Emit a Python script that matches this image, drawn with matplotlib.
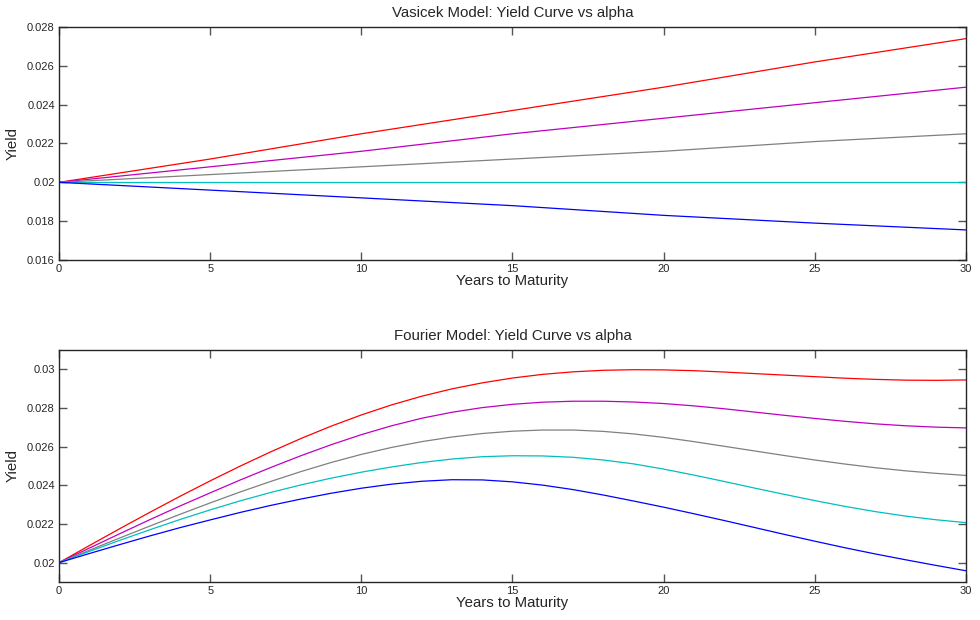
import numpy as np
import matplotlib
matplotlib.use('Agg')
import matplotlib.pyplot as plt
from matplotlib.ticker import FormatStrFormatter

plt.rcParams['font.family'] = ['Liberation Sans', 'DejaVu Sans']

# maturities (years)
t_vas = [0, 5, 10, 15, 20, 25, 30]
t_fou = list(range(0, 31))

# Vasicek yields, one series per alpha
vas_red = [0.02, 0.0212, 0.0225, 0.0237, 0.0249, 0.0262, 0.0274]
vas_mag = [0.02, 0.0208, 0.0216, 0.0225, 0.0233, 0.0241, 0.0249]
vas_gray = [0.02, 0.0204, 0.0208, 0.0212, 0.0216, 0.0221, 0.0225]
vas_cyan = [0.02, 0.02, 0.02, 0.02, 0.02, 0.02, 0.02]
vas_blue = [0.02, 0.0196, 0.0192, 0.0188, 0.0183, 0.0179, 0.01755]

# Fourier yields, read at each year
fou_red = [0.02000, 0.02088, 0.02175, 0.02260, 0.02343, 0.02423, 0.02500,
           0.02573, 0.02642, 0.02706, 0.02764, 0.02816, 0.02861, 0.02899,
           0.02930, 0.02955, 0.02974, 0.02987, 0.02995, 0.02998, 0.02997,
           0.02993, 0.02986, 0.02978, 0.02970, 0.02962, 0.02954, 0.02948,
           0.02944, 0.02943, 0.02945]
fou_mag = [0.02000, 0.02075, 0.02149, 0.02222, 0.02293, 0.02361, 0.02428,
           0.02492, 0.02553, 0.02610, 0.02662, 0.02708, 0.02747, 0.02778,
           0.02802, 0.02819, 0.02830, 0.02835, 0.02835, 0.02831, 0.02823,
           0.02811, 0.02796, 0.02779, 0.02762, 0.02746, 0.02731, 0.02718,
           0.02708, 0.02701, 0.02697]
fou_gray = [0.02000, 0.02064, 0.02127, 0.02189, 0.02250, 0.02309, 0.02366,
            0.02420, 0.02471, 0.02518, 0.02560, 0.02596, 0.02626, 0.02650,
            0.02668, 0.02680, 0.02686, 0.02686, 0.02679, 0.02666, 0.02648,
            0.02626, 0.02602, 0.02578, 0.02554, 0.02531, 0.02510, 0.02491,
            0.02475, 0.02462, 0.02451]
fou_cyan = [0.02000, 0.02058, 0.02115, 0.02170, 0.02223, 0.02273, 0.02320,
            0.02363, 0.02402, 0.02437, 0.02468, 0.02495, 0.02518, 0.02536,
            0.02548, 0.02553, 0.02552, 0.02545, 0.02531, 0.02511, 0.02484,
            0.02453, 0.02420, 0.02386, 0.02353, 0.02321, 0.02291, 0.02264,
            0.02241, 0.02222, 0.02207]
fou_blue = [0.02000, 0.02047, 0.02093, 0.02138, 0.02181, 0.02221, 0.02260,
            0.02296, 0.02329, 0.02359, 0.02385, 0.02406, 0.02421, 0.02429,
            0.02428, 0.02418, 0.02401, 0.02378, 0.02350, 0.02319, 0.02287,
            0.02253, 0.02218, 0.02182, 0.02146, 0.02111, 0.02077, 0.02045,
            0.02015, 0.01986, 0.01958]

colors = ['#ff0000', '#bf00bf', '#808080', '#00bfbf', '#0000ff']

fig = plt.figure(figsize=(9.8, 6.2), dpi=100)
ax1 = fig.add_axes([0.0602, 0.5806, 0.9255, 0.3759])
ax2 = fig.add_axes([0.0602, 0.0613, 0.9255, 0.3742])


def style(ax, title):
    ax.set_xlim(0, 30)
    ax.set_xticks([0, 5, 10, 15, 20, 25, 30])
    ax.xaxis.set_major_formatter(FormatStrFormatter('%g'))
    ax.yaxis.set_major_formatter(FormatStrFormatter('%g'))
    ax.tick_params(direction='in', top=True, right=True, length=5.5, width=1,
                   color='#555555', labelsize=8, labelcolor='#262626', pad=3)
    for s in ax.spines.values():
        s.set_color('#262626')
        s.set_linewidth(1)
    ax.set_title(title, fontsize=10.8, color='#262626', pad=7)
    ax.set_xlabel('Years to Maturity', fontsize=10.8, color='#262626', labelpad=0)
    ax.set_ylabel('Yield', fontsize=10.8, color='#262626', labelpad=5)


for ys, c in zip([vas_red, vas_mag, vas_gray, vas_cyan, vas_blue], colors):
    ax1.plot(t_vas, ys, color=c, lw=0.9)
ax1.set_ylim(0.016, 0.028)
ax1.set_yticks([0.016, 0.018, 0.02, 0.022, 0.024, 0.026, 0.028])
style(ax1, 'Vasicek Model: Yield Curve vs alpha')

for ys, c in zip([fou_red, fou_mag, fou_gray, fou_cyan, fou_blue], colors):
    ax2.plot(t_fou, ys, color=c, lw=0.9)
ax2.set_ylim(0.019, 0.031)
ax2.set_yticks([0.02, 0.022, 0.024, 0.026, 0.028, 0.03])
style(ax2, 'Fourier Model: Yield Curve vs alpha')

fig.savefig('out.png', dpi=100)
